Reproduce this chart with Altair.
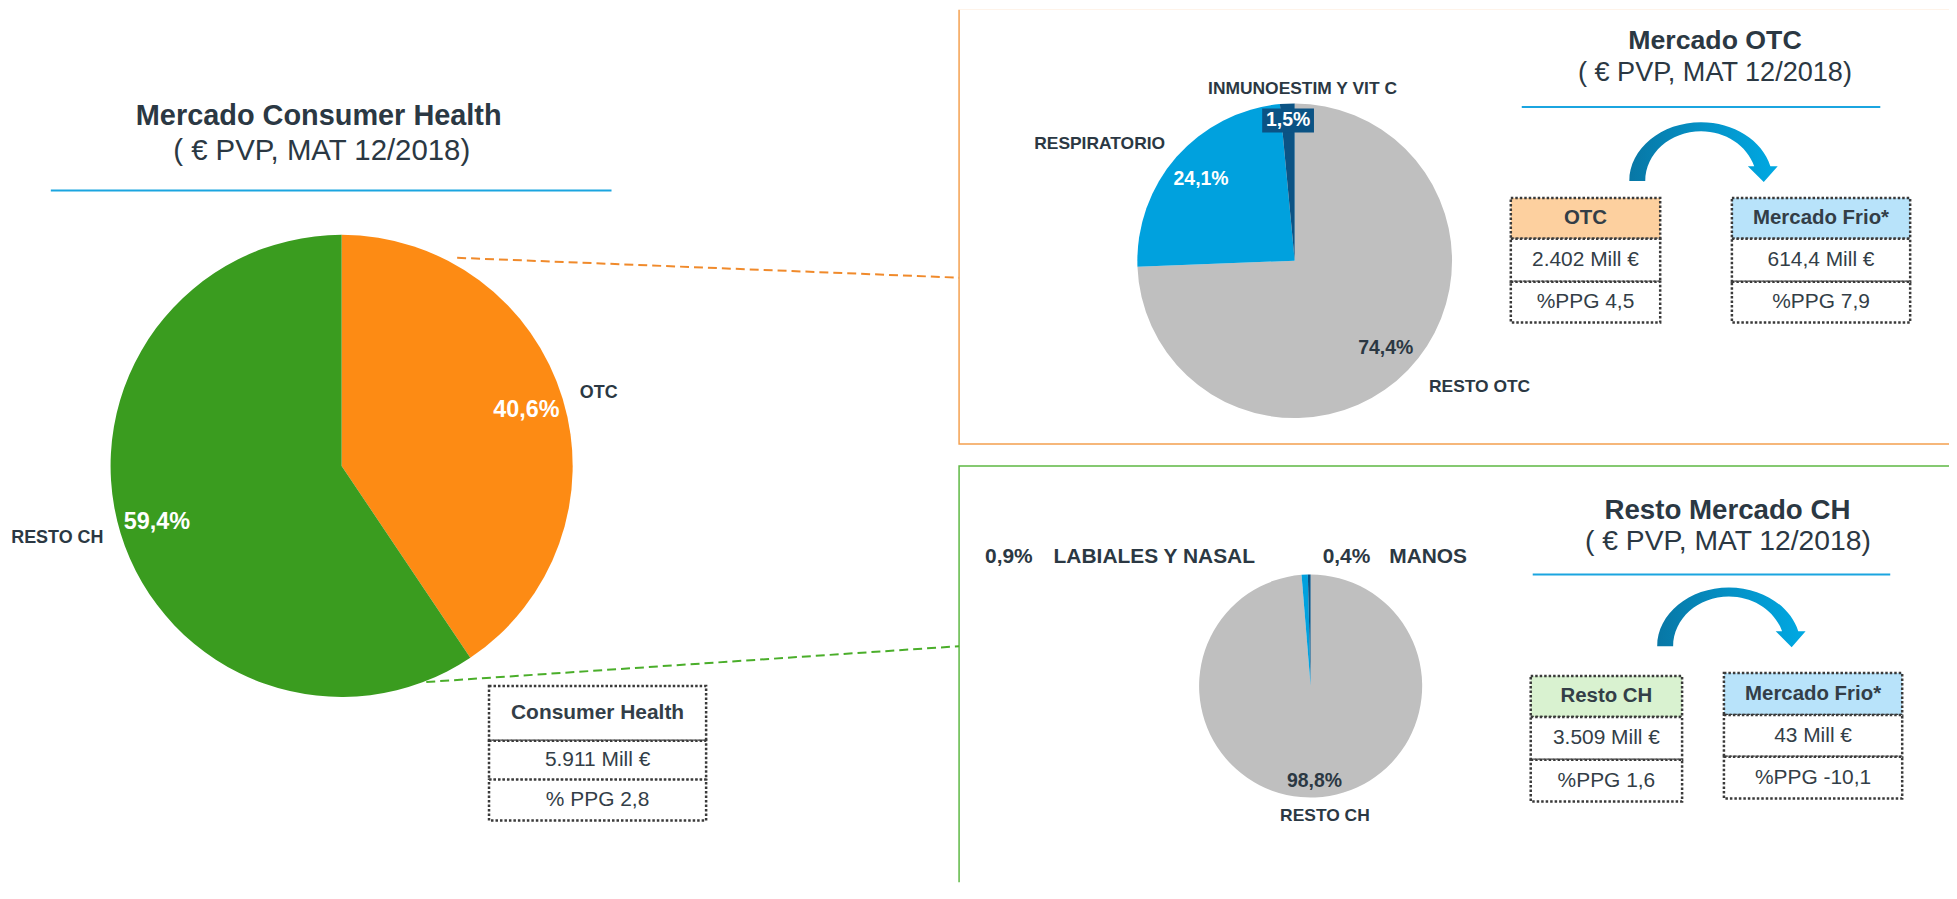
import altair as alt
import pandas as pd

OFF = 8
W, H = 1949, 876
FONT = "Liberation Sans"
DARK = "#2B3843"
TXT = "#333E47"

# ---------------- data ----------------
ch_cats = ["OTC", "RESTO CH"]
ch_vals = [40.6, 59.4]
ch_colors = ["#FD8B14", "#3A9C1F"]

otc_cats = ["RESTO OTC", "RESPIRATORIO", "INMUNOESTIM Y VIT C"]
otc_vals = [74.4, 24.1, 1.5]
otc_colors = ["#BFBFBF", "#00A1DE", "#0B5384"]

rch_cats = ["RESTO CH", "LABIALES Y NASAL", "MANOS"]
rch_vals = [98.8, 0.9, 0.4]
rch_colors = ["#BFBFBF", "#00A1DE", "#0B5384"]

title_main = ["Mercado Consumer Health", "( € PVP, MAT 12/2018)"]
title_otc = ["Mercado OTC", "( € PVP, MAT 12/2018)"]
title_rch = ["Resto Mercado CH", "( € PVP, MAT 12/2018)"]

box_ch = ["Consumer Health", "5.911 Mill €", "% PPG 2,8"]
box_otc = ["OTC", "2.402 Mill €", "%PPG 4,5"]
box_frio_otc = ["Mercado Frio*", "614,4 Mill €", "%PPG 7,9"]
box_rch = ["Resto CH", "3.509 Mill €", "%PPG 1,6"]
box_frio_rch = ["Mercado Frio*", "43 Mill €", "%PPG -10,1"]


def fmt(v):
    return f"{v:.1f}".replace(".", ",") + "%"


def px(v):
    return v - OFF


def frame(cats, vals):
    return pd.DataFrame({"cat": cats, "val": vals, "ord": list(range(len(cats)))})


ch_df = frame(ch_cats, ch_vals)
otc_df = frame(otc_cats, otc_vals)
rch_df = frame(rch_cats, rch_vals)

ONE = pd.DataFrame({"k": [0]})


def rect(x0, x1, y0, y1, **kw):
    return alt.Chart(ONE).mark_rect(**kw).encode(
        x=alt.value(px(x0)), x2=alt.value(px(x1)),
        y=alt.value(px(y0)), y2=alt.value(px(y1)))


def rule(x0, y0, x1, y1, **kw):
    return alt.Chart(ONE).mark_rule(**kw).encode(
        x=alt.value(px(x0)), x2=alt.value(px(x1)),
        y=alt.value(px(y0)), y2=alt.value(px(y1)))


def text(s, x, y, size, bold=False, color=DARK, align="center"):
    return alt.Chart(ONE).mark_text(
        text=s, font=FONT, fontSize=size,
        fontWeight="bold" if bold else "normal",
        color=color, align=align, baseline="middle").encode(
        x=alt.value(px(x)), y=alt.value(px(y)))


def pie(df, colors, cx, cy, r):
    return alt.Chart(df).mark_arc(radius=r, strokeWidth=0).encode(
        theta=alt.Theta("val:Q", stack=True),
        order=alt.Order("ord:Q", sort="ascending"),
        color=alt.Color("cat:N", scale=alt.Scale(domain=list(df.cat), range=colors), legend=None),
        x=alt.value(px(cx)), y=alt.value(px(cy)))


def polar(df, cx, cy, r):
    return (alt.Chart(df)
            .transform_window(cum="sum(val)", sort=[alt.SortField("ord")], frame=[None, 0])
            .transform_joinaggregate(tot="sum(val)")
            .transform_calculate(
                mid="(datum.cum - datum.val / 2) / datum.tot * 2 * PI",
                px=f"{px(cx)} + {r} * sin(datum.mid)",
                py=f"{px(cy)} - {r} * cos(datum.mid)",
                lab="replace(format(datum.val, '.1f'), '.', ',') + '%'"))


def plabel(df, cat, cx, cy, r, field="lab", size=18, color="white", align="center", dx=0, dy=0):
    return (polar(df, cx, cy, r)
            .transform_filter(alt.datum.cat == cat)
            .mark_text(font=FONT, fontSize=size, fontWeight="bold", color=color,
                       align=align, baseline="middle", dx=dx, dy=dy)
            .encode(x=alt.X("px:Q", scale=None, axis=None),
                    y=alt.Y("py:Q", scale=None, axis=None),
                    text=alt.Text(f"{field}:N")))


def box(x0, x1, ys, texts, header_fill, hsize=20.5, bsize=21):
    out = []
    fills = [header_fill, "white", "white"]
    for i in range(3):
        out.append(rect(x0, x1, ys[i], ys[i + 1], fill=fills[i], stroke="#3A3A3A",
                        strokeWidth=2.5, strokeDash=[2.5, 2]))
    for i in range(3):
        out.append(text(texts[i], (x0 + x1) / 2, (ys[i] + ys[i + 1]) / 2,
                        hsize if i == 0 else bsize, bold=(i == 0), color=TXT))
    return out


ARROW = ("M -0.9867 0.4 C -0.9867 -0.0345 -0.5569 -0.3867 -0.0267 -0.3867 "
         "C 0.4092 -0.3867 0.7910 -0.1455 0.9018 0.2 L 1 0.2 L 0.8133 0.4133 L 0.6 0.2 "
         "L 0.6856 0.2 C 0.5878 -0.0777 0.2994 -0.2667 -0.0267 -0.2667 "
         "C -0.4391 -0.2667 -0.7733 0.0318 -0.7733 0.4 Z")
GRAD = {"gradient": "linear", "x1": 0, "x2": 1, "y1": 0, "y2": 0,
        "stops": [{"offset": 0, "color": "#0877A5"},
                  {"offset": 0.5, "color": "#0491C6"},
                  {"offset": 1, "color": "#00A9E3"}]}


def arrow(x, y):
    return alt.Chart(ONE).mark_point(shape=ARROW, size=22500, filled=True, color=GRAD,
                                     opacity=1, strokeWidth=0).encode(
        x=alt.value(px(x)), y=alt.value(px(y)))


layers = []

# panel borders
layers.append(rect(963, 2100, 7, 444, fill="white", fillOpacity=0, stroke="#F4A04F",
                   strokeWidth=1.5, clip=True))
layers.append(rect(963, 2100, 466, 1000, fill="white", fillOpacity=0, stroke="#5DB843",
                   strokeWidth=1.5, clip=True))

# connectors
layers.append(rule(459, 257, 963, 277, color="#F08A2B", strokeWidth=2, strokeDash=[9, 5]))
layers.append(rule(428, 683, 963, 647, color="#4AAE2A", strokeWidth=2, strokeDash=[9, 5]))

# main pie
MCX, MCY, MR = 343, 466, 232
layers.append(pie(ch_df, ch_colors, MCX, MCY, MR))
layers.append(plabel(ch_df, "OTC", MCX, MCY, 194, size=23.5))
layers.append(plabel(ch_df, "RESTO CH", MCX, MCY, 194, size=23.5))
layers.append(plabel(ch_df, "OTC", MCX, MCY, 250, field="cat", size=18, color=DARK, align="left"))
layers.append(plabel(ch_df, "RESTO CH", MCX, MCY, 250, field="cat", size=18, color=DARK, align="right"))

# main title
layers.append(text(title_main[0], 320, 115, 29, bold=True))
layers.append(text(title_main[1], 323, 150, 29.5))
layers.append(rule(51, 189.5, 614, 189.5, color="#1BA5E0", strokeWidth=2))
layers += box(491, 709, [687, 742, 781, 822], box_ch, "white", hsize=21, bsize=21)

# OTC panel
OCX, OCY, OR = 1300, 260, 158
layers.append(pie(otc_df, otc_colors, OCX, OCY, OR))
layers.append(polar(otc_df, OCX, OCY, 141)
              .transform_filter(alt.datum.cat == otc_cats[2])
              .transform_calculate(x0="datum.px - 26", x1="datum.px + 26",
                                   y0="datum.py - 12", y1="datum.py + 12")
              .mark_rect(color="#0B5384")
              .encode(x=alt.X("x0:Q", scale=None, axis=None), x2="x1:Q",
                      y=alt.Y("y0:Q", scale=None, axis=None), y2="y1:Q"))
layers.append(plabel(otc_df, otc_cats[2], OCX, OCY, 141, size=19.5))
layers.append(plabel(otc_df, otc_cats[1], OCX, OCY, 125, size=19.5))
layers.append(plabel(otc_df, otc_cats[0], OCX, OCY, 127, size=19.5, color=DARK))
layers.append(plabel(otc_df, otc_cats[2], OCX, OCY, 173, field="cat", size=17.5, color=DARK, dx=16))
layers.append(plabel(otc_df, otc_cats[1], OCX, OCY, 173, field="cat", size=17.5, color=DARK, align="right", dy=-3))
layers.append(plabel(otc_df, otc_cats[0], OCX, OCY, 183, field="cat", size=17.5, color=DARK, align="left", dx=3))

layers.append(text(title_otc[0], 1722, 39, 26.8, bold=True))
layers.append(text(title_otc[1], 1722, 71, 27.2))
layers.append(rule(1528, 105.5, 1888, 105.5, color="#1BA5E0", strokeWidth=2))
layers.append(arrow(1710, 150))
layers += box(1517, 1667, [197, 238, 281, 322], box_otc, "#FDD09F")
layers += box(1739, 1918, [197, 238, 281, 322], box_frio_otc, "#B8E3FA")

# Resto CH panel
RCX, RCY, RR = 1316, 687, 112
layers.append(pie(rch_df, rch_colors, RCX, RCY, RR))
layers.append(plabel(rch_df, rch_cats[0], RCX, RCY, 95, size=19.5, color=DARK))
layers.append(plabel(rch_df, rch_cats[0], RCX, RCY, 131, field="cat", size=17.5, color=DARK, dx=9))
layers.append(text(fmt(rch_vals[1]), 1013, 557, 21, bold=True))
layers.append(text(rch_cats[1], 1159, 557, 21, bold=True))
layers.append(text(fmt(rch_vals[2]), 1352, 557, 21, bold=True))
layers.append(text(rch_cats[2], 1434, 557, 21, bold=True))

layers.append(text(title_rch[0], 1734.5, 511, 27.8, bold=True))
layers.append(text(title_rch[1], 1735, 541, 28.4))
layers.append(rule(1539, 575, 1898, 575, color="#1BA5E0", strokeWidth=2))
layers.append(arrow(1738, 617))
layers += box(1537, 1689, [677, 718, 761, 803], box_rch, "#D9F2D0")
layers += box(1731, 1910, [674, 716, 758, 800], box_frio_rch, "#B8E3FA")

chart = (alt.layer(*layers)
         .resolve_scale(color="independent", theta="independent")
         .properties(width=W, height=H, padding=0,
                     autosize=alt.AutoSizeParams(type="none"))
         .configure_view(stroke=None))

chart.save("out.html", embed_options={"renderer": "svg", "actions": False})
